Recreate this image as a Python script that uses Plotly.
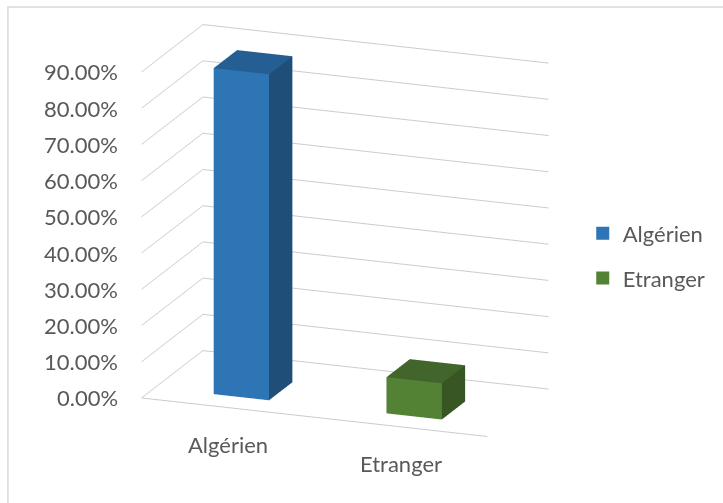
import math
import plotly.graph_objects as go

# Share of respondents by nationality
categories = ["Algérien", "Etranger"]
values = [0.90, 0.10]
tick_values = [0.0, 0.1, 0.2, 0.3, 0.4, 0.5, 0.6, 0.7, 0.8, 0.9]
tick_labels = ["0.00%", "10.00%", "20.00%", "30.00%", "40.00%",
               "50.00%", "60.00%", "70.00%", "80.00%", "90.00%"]

# front / side / top shades for each series
front_colors = ["#2E75B6", "#548235"]
side_colors = ["#1F4E79", "#375623"]
top_colors = ["#255E93", "#41652B"]

BAR_HALF = 0.16       # half width of a column in category units
DEPTH = (0.22, 0.60)  # front and back of the columns along the depth axis
X_RANGE = [-0.5, 1.5]
Y_RANGE = [0, 1]
Z_RANGE = [0, 0.9001]

FONT = "Lato"
GREY = "#595959"
GRID = "#CCCCCC"

# viewing angles of the 3-D box
AZIMUTH = math.radians(20.8)
ELEVATION = math.radians(16.1)
EYE_DIST = 2.0


def column(ix, height, front, side, top, name):
    x0, x1 = ix - BAR_HALF, ix + BAR_HALF
    y0, y1 = DEPTH
    xs = [x0, x1, x1, x0, x0, x1, x1, x0]
    ys = [y0, y0, y1, y1, y0, y0, y1, y1]
    zs = [0, 0, 0, 0, height, height, height, height]
    tri = [
        (0, 1, 2), (0, 2, 3),   # bottom
        (4, 5, 6), (4, 6, 7),   # top
        (0, 1, 5), (0, 5, 4),   # front
        (3, 2, 6), (3, 6, 7),   # back
        (0, 3, 7), (0, 7, 4),   # left
        (1, 2, 6), (1, 6, 5),   # right
    ]
    shade = [side, side, top, top, front, front, side, side, side, side, side, side]
    return go.Mesh3d(
        x=xs, y=ys, z=zs,
        i=[t[0] for t in tri], j=[t[1] for t in tri], k=[t[2] for t in tri],
        facecolor=shade, color=front, flatshading=True,
        lighting=dict(ambient=1, diffuse=0, specular=0, roughness=1, fresnel=0),
        name=name, legendgroup=name, showlegend=False, hoverinfo="name+z",
    )


fig = go.Figure()
for idx, (cat, val) in enumerate(zip(categories, values)):
    fig.add_trace(column(idx, val, front_colors[idx], side_colors[idx],
                         top_colors[idx], cat))
    # legend swatch for the series
    fig.add_trace(go.Scatter(
        x=[None], y=[None], mode="markers", name=cat, legendgroup=cat,
        marker=dict(symbol="square", size=13, color=front_colors[idx]),
        hoverinfo="skip",
    ))

# value labels along the front-left edge, category labels under the front edge
label_font = dict(family=FONT, size=22, color=GREY)
scene_labels = [
    dict(x=X_RANGE[0], y=Y_RANGE[0], z=v, text=t, showarrow=False,
         xanchor="right", yanchor="middle", xshift=-22, font=label_font)
    for v, t in zip(tick_values, tick_labels)
] + [
    dict(x=i, y=Y_RANGE[0], z=Z_RANGE[0], text=c, showarrow=False,
         xanchor="center", yanchor="middle", xshift=0, yshift=-37,
         font=label_font)
    for i, c in enumerate(categories)
]

axis_common = dict(showbackground=False, zeroline=False, showspikes=False,
                   showticklabels=False, ticks="", title=dict(text=""))

eye = dict(x=EYE_DIST * math.sin(AZIMUTH) * math.cos(ELEVATION),
           y=-EYE_DIST * math.cos(AZIMUTH) * math.cos(ELEVATION),
           z=EYE_DIST * math.sin(ELEVATION))

fig.update_layout(
    width=723, height=503,
    margin=dict(l=0, r=0, t=0, b=0),
    paper_bgcolor="white",
    plot_bgcolor="rgba(0,0,0,0)",
    font=dict(family=FONT, color=GREY, size=22),
    xaxis=dict(visible=False),
    yaxis=dict(visible=False),
    scene=dict(
        domain=dict(x=[0.0, 0.955], y=[0.052, 1.0]),
        xaxis=dict(range=X_RANGE, tickvals=[0, 1], showgrid=False,
                   showline=True, linecolor=GRID, linewidth=2, **axis_common),
        yaxis=dict(range=Y_RANGE, showgrid=False, showline=False, **axis_common),
        zaxis=dict(range=Z_RANGE, tickvals=tick_values, showgrid=True,
                   gridcolor=GRID, gridwidth=2, showline=False, **axis_common),
        aspectmode="manual",
        aspectratio=dict(x=1.55, y=0.725, z=1.43),
        camera=dict(eye=eye,
                    up=dict(x=0, y=0, z=1),
                    center=dict(x=0, y=0, z=-0.035),
                    projection=dict(type="orthographic")),
        annotations=scene_labels,
    ),
    legend=dict(x=0.806, y=0.491, yanchor="middle", xanchor="left",
                font=dict(family=FONT, size=22, color=GREY),
                tracegroupgap=13, itemwidth=30,
                bgcolor="rgba(0,0,0,0)"),
    shapes=[dict(type="rect", xref="paper", yref="paper",
                 x0=0.011, x1=1.2, y0=-0.2, y1=0.986,
                 line=dict(color="#D9D9D9", width=1.5))],
)

fig.write_html("out.html")
